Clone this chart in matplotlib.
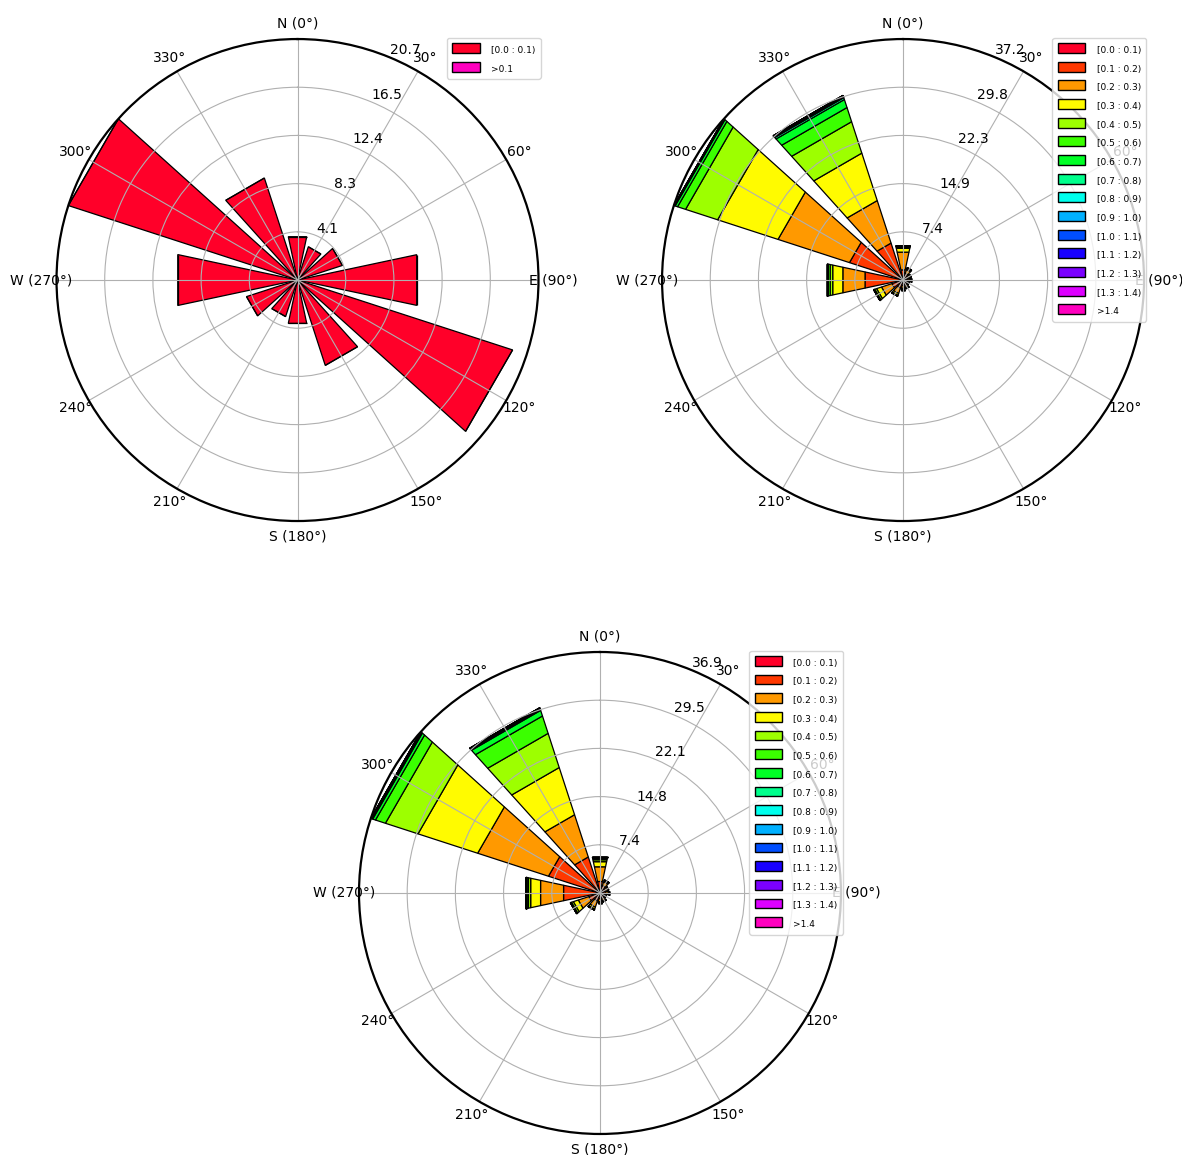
import matplotlib
matplotlib.use("Agg")
import matplotlib.pyplot as plt
from matplotlib.patches import Rectangle, Patch
import numpy as np

# sector centres (deg, clockwise from north)
directions = [0, 30, 60, 90, 120, 150, 180, 210, 240, 270, 300, 330]
theta_labels = ["N (0°)", "30°", "60°", "E (90°)", "120°", "150°",
                "S (180°)", "210°", "240°", "W (270°)", "300°", "330°"]

labels_two = ["[0.0 : 0.1)", ">0.1"]
labels_all = ["[0.0 : 0.1)", "[0.1 : 0.2)", "[0.2 : 0.3)", "[0.3 : 0.4)",
              "[0.4 : 0.5)", "[0.5 : 0.6)", "[0.6 : 0.7)", "[0.7 : 0.8)",
              "[0.8 : 0.9)", "[0.9 : 1.0)", "[1.0 : 1.1)", "[1.1 : 1.2)",
              "[1.2 : 1.3)", "[1.3 : 1.4)", ">1.4"]

# frequency (%) per sector, one row per direction, one column per speed bin
rose_a = np.array([
    [3.8, 0.0],
    [3.0, 0.0],
    [4.05, 0.0],
    [10.45, 0.0],
    [19.4, 0.0],
    [7.7, 0.0],
    [3.8, 0.0],
    [3.3, 0.0],
    [4.6, 0.0],
    [10.5, 0.0],
    [20.67, 0.0],
    [9.2, 0.0],
])

rose_b = np.array([
    [0.3, 1.3, 2.8, 0.6, 0.2, 0.1, 0.05, 0.02, 0.02, 0.01, 0, 0, 0, 0, 0],
    [0.3, 0.8, 0.6, 0.2, 0.05, 0.03, 0.02, 0, 0, 0, 0, 0, 0, 0, 0],
    [0.3, 0.6, 0.3, 0.08, 0.02, 0, 0, 0, 0, 0, 0, 0, 0, 0, 0],
    [0.3, 0.5, 0.3, 0.08, 0.02, 0, 0, 0, 0, 0, 0, 0, 0, 0, 0],
    [0.3, 0.4, 0.2, 0.08, 0.02, 0, 0, 0, 0, 0, 0, 0, 0, 0, 0],
    [0.3, 0.6, 0.35, 0.1, 0.03, 0.02, 0, 0, 0, 0, 0, 0, 0, 0, 0],
    [0.3, 0.6, 0.4, 0.15, 0.05, 0, 0, 0, 0, 0, 0, 0, 0, 0, 0],
    [0.3, 1.0, 0.9, 0.3, 0.1, 0.03, 0, 0, 0, 0, 0, 0, 0, 0, 0],
    [0.3, 1.5, 1.7, 0.8, 0.3, 0.1, 0.05, 0.02, 0, 0, 0, 0, 0, 0, 0],
    [0.5, 5.5, 3.5, 1.6, 0.4, 0.3, 0.1, 0.03, 0.02, 0, 0, 0, 0, 0, 0],
    [0.8, 7.9, 11.6, 9.8, 5.2, 1.3, 0.4, 0.1, 0.05, 0.03, 0.02, 0, 0, 0, 0],
    [0.6, 5.4, 6.9, 7.7, 5.1, 2.3, 1.3, 0.3, 0.15, 0.1, 0.05, 0.03, 0.02, 0.01, 0.01],
])

rose_c = np.array([
    [0.3, 1.5, 2.3, 0.8, 0.3, 0.2, 0.1, 0.05, 0.03, 0.02, 0, 0, 0, 0, 0],
    [0.3, 0.9, 0.6, 0.2, 0.06, 0.03, 0.01, 0, 0, 0, 0, 0, 0, 0, 0],
    [0.3, 0.6, 0.35, 0.1, 0.03, 0.02, 0, 0, 0, 0, 0, 0, 0, 0, 0],
    [0.3, 0.6, 0.4, 0.1, 0.03, 0, 0, 0, 0, 0, 0, 0, 0, 0, 0],
    [0.3, 0.4, 0.25, 0.08, 0.02, 0, 0, 0, 0, 0, 0, 0, 0, 0, 0],
    [0.3, 0.6, 0.4, 0.1, 0.03, 0, 0, 0, 0, 0, 0, 0, 0, 0, 0],
    [0.3, 0.6, 0.45, 0.15, 0.05, 0, 0, 0, 0, 0, 0, 0, 0, 0, 0],
    [0.3, 1.0, 1.0, 0.3, 0.1, 0.03, 0.02, 0, 0, 0, 0, 0, 0, 0, 0],
    [0.3, 1.5, 1.7, 0.8, 0.3, 0.1, 0.05, 0.02, 0, 0, 0, 0, 0, 0, 0],
    [0.5, 5.2, 3.6, 1.55, 0.35, 0.25, 0.08, 0.03, 0.02, 0, 0, 0, 0, 0, 0],
    [0.8, 7.5, 11.4, 9.6, 5.25, 1.6, 0.45, 0.15, 0.08, 0.04, 0.02, 0.01, 0, 0, 0],
    [0.6, 5.2, 6.8, 7.6, 5.5, 2.8, 0.9, 0.2, 0.1, 0.05, 0.03, 0.02, 0.01, 0.01, 0],
])


def draw_rose(ax, table, labels):
    ax.set_theta_zero_location("N")
    ax.set_theta_direction(-1)
    n_bins = table.shape[1]
    colors = plt.get_cmap("gist_rainbow")(np.linspace(0, 1, n_bins))
    width = np.radians(30 * 0.8)

    # stacked sectors, straight outer edges
    for d, row in zip(directions, table):
        offset = 0.0
        for j, val in enumerate(row):
            ax.add_patch(Rectangle((np.radians(d) - width / 2, offset), width, val,
                                   facecolor=colors[j], edgecolor="black", lw=0.9))
            offset += val

    rmax = table.sum(axis=1).max()
    ax.set_ylim(0, rmax)
    radii = np.linspace(0, rmax, 6)[1:]
    ax.set_rgrids(radii, ["%.1f" % r for r in radii], angle=22.5, fontsize=10)
    ax.set_thetagrids(np.arange(0, 360, 30), theta_labels, fontsize=10)
    ax.tick_params(axis="x", pad=0.5)
    ax.grid(True, color="#b0b0b0", lw=0.8)
    ax.spines["polar"].set_linewidth(1.6)

    handles = [Patch(facecolor=c, edgecolor="black") for c in colors]
    leg = ax.legend(handles, labels, loc="upper right", bbox_to_anchor=(1.005, 1.003),
                    borderaxespad=0)
    plt.setp(leg.get_texts(), fontsize=6.5)


fig = plt.figure(figsize=(11.82, 11.55), dpi=100)
ax1 = fig.add_axes([0.0478, 0.5489, 0.4078, 0.4173], projection="polar")
ax2 = fig.add_axes([0.5601, 0.5489, 0.4078, 0.4173], projection="polar")
ax3 = fig.add_axes([0.3037, 0.0182, 0.4078, 0.4173], projection="polar")

draw_rose(ax1, rose_a, labels_two)
draw_rose(ax2, rose_b, labels_all)
draw_rose(ax3, rose_c, labels_all)

fig.savefig("out.png", dpi=100)
